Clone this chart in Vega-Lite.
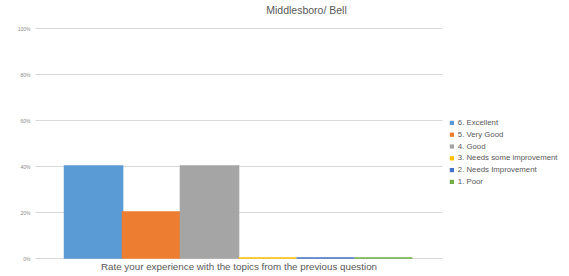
{
  "$schema": "https://vega.github.io/schema/vega-lite/v6.json",
  "autosize": {"type": "none"},
  "width": 407,
  "height": 230,
  "padding": {"left": 35, "top": 28, "right": 127, "bottom": 18},
  "background": "white",
  "config": {"font": "Liberation Sans", "view": {"stroke": null}},
  "title": {"text": "Middlesboro/ Bell", "anchor": "middle", "dx": 68, "offset": 10, "fontSize": 10.5, "fontWeight": "normal", "color": "#595959"},
  "data": {"values": [
    {"question": "Rate your experience with the topics from the previous question", "rating": "6. Excellent", "share": 0.4},
    {"question": "Rate your experience with the topics from the previous question", "rating": "5. Very Good", "share": 0.2},
    {"question": "Rate your experience with the topics from the previous question", "rating": "4. Good", "share": 0.4},
    {"question": "Rate your experience with the topics from the previous question", "rating": "3. Needs some improvement", "share": 0},
    {"question": "Rate your experience with the topics from the previous question", "rating": "2. Needs Improvement", "share": 0},
    {"question": "Rate your experience with the topics from the previous question", "rating": "1. Poor", "share": 0}
  ]},
  "mark": {"type": "bar", "strokeWidth": 1.6},
  "encoding": {
    "x": {"field": "question", "type": "nominal",
      "scale": {"paddingInner": 0, "paddingOuter": 0.085},
      "axis": {"title": "Rate your experience with the topics from the previous question", "labels": false, "ticks": false, "domain": false, "titleFontSize": 9.8, "titleFontWeight": "normal", "titleColor": "#595959", "titlePadding": 3}},
    "xOffset": {"field": "rating", "type": "nominal",
      "sort": ["6. Excellent", "5. Very Good", "4. Good", "3. Needs some improvement", "2. Needs Improvement", "1. Poor"],
      "scale": {"paddingInner": 0, "paddingOuter": 0}},
    "y": {"field": "share", "type": "quantitative",
      "scale": {"domain": [0, 1]},
      "axis": {"title": null, "values": [0, 0.2, 0.4, 0.6, 0.8, 1], "format": ".0%", "labelFontSize": 5, "labelColor": "#8c8c8c", "ticks": false, "domain": false, "labelPadding": 5, "gridColor": "#d9d9d9", "gridWidth": 1}},
    "color": {"field": "rating", "type": "nominal",
      "sort": ["6. Excellent", "5. Very Good", "4. Good", "3. Needs some improvement", "2. Needs Improvement", "1. Poor"],
      "scale": {"domain": ["6. Excellent", "5. Very Good", "4. Good", "3. Needs some improvement", "2. Needs Improvement", "1. Poor"],
        "range": ["#5B9BD5", "#ED7D31", "#A5A5A5", "#FFC000", "#4472C4", "#70AD47"]},
      "legend": {"title": null, "orient": "none", "legendX": 413, "legendY": 91, "symbolType": "square", "symbolSize": 18, "symbolStrokeWidth": 0, "labelFontSize": 7.8, "labelColor": "#595959", "labelOffset": 2, "rowPadding": 2.8}},
    "stroke": {"field": "rating", "type": "nominal",
      "scale": {"domain": ["6. Excellent", "5. Very Good", "4. Good", "3. Needs some improvement", "2. Needs Improvement", "1. Poor"],
        "range": ["#5B9BD5", "#ED7D31", "#A5A5A5", "#FFC000", "#4472C4", "#70AD47"]},
      "legend": null}
  }
}
